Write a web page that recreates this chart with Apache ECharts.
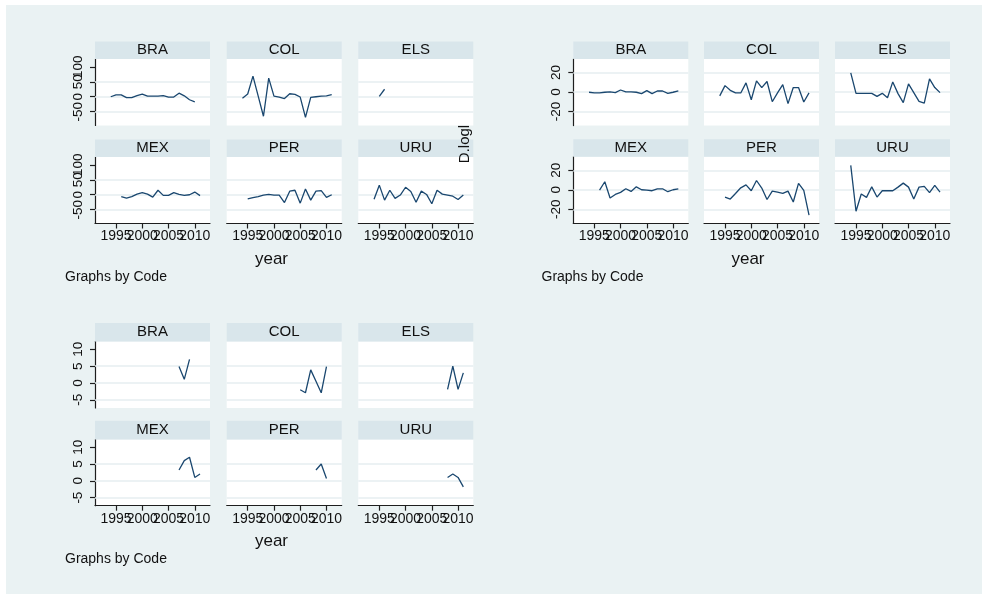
<!DOCTYPE html>
<html>
<head>
<meta charset="utf-8">
<script src="https://cdn.jsdelivr.net/npm/echarts@6/dist/echarts.min.js"></script>
<style>
html, body { margin: 0; padding: 0; background: #ffffff; }
#chart { width: 982px; height: 594px; }
</style>
</head>
<body>
<div id="chart"></div>
<script>
// ---- data -------------------------------------------------------------
const years = [1994, 1995, 1996, 1997, 1998, 1999, 2000, 2001, 2002,
               2003, 2004, 2005, 2006, 2007, 2008, 2009, 2010, 2011];
const codes = ['BRA', 'COL', 'ELS', 'MEX', 'PER', 'URU'];

// first set of panels (top left)
const g1BRA = [0, 6, 6, -3, -3, 4, 9, 2, 2, 2, 4, -1, -1, 12, 3, -10, -17, null];
const g1COL = [-5, 9, 69, 2, -65, 62, 2, -1, -6, 10, 8, -1, -69, -2, 0, 2, 3, 7];
const g1ELS = [null, 1, 25, null, null, null, null, null, null, null, null, null, null, null, null, null, null, null];
const g1MEX = [null, null, -6, -11, -6, 2, 7, 2, -8, 15, -2, -2, 7, 1, -2, 0, 9, -3];
const g1PER = [null, -14, -10, -6, -1, 1, -1, -1, -26, 12, 15, -28, 19, -18, 12, 14, -9, 0];
const g1URU = [-15, 32, -18, 15, -12, -1, 25, 11, -25, 12, 1, -30, 15, 2, -1, -5, -16, -1];

// second set of panels (top right), D.logl
const g2BRA = [-0.3, -1, -1, -0.3, 0, -0.7, 2, 0, 0, -0.3, -1.7, 1.4, -1.7, 1, 1, -1.4, -0.3, 1];
const g2COL = [-4, 6.5, 1.7, -1, -1, 9.3, -8, 11.4, 4.5, 10.7, -10, -1, 7.6, -12, 4.5, 4.5, -10.3, -1];
const g2ELS = [19.5, -1.4, -1.4, -1.4, -1.4, -4.5, -1.4, -6, 10.3, -1.7, -11, 8.3, -0.7, -9.7, -11.4, 13.4, 4.5, -0.7];
const g2MEX = [null, null, -0.3, 8.2, -8.5, -4.8, -2.7, 1, -1.7, 3, 0, -0.3, -1, 1, 1, -2, 0, 1];
const g2PER = [null, -7.5, -9.5, -3.8, 2, 5, -1, 9.5, 1.7, -10, -1.4, -2.4, -3.8, -1.4, -12.6, 6.5, -0.7, -26];
const g2URU = [25, -22, -4.4, -7.8, 3, -7.5, -1, -1, -1, 2.7, 6.8, 2.7, -9.5, 2.7, 3.4, -3, 4.4, -2.4];

// third set of panels (bottom left)
const g3BRA = [null, null, null, null, null, null, null, null, null, null, null, null, null, 4.9, 1.1, 7.0, null, null];
const g3COL = [null, null, null, null, null, null, null, null, null, null, null, -2, -2.9, 3.9, 0.5, -2.9, 4.9, null];
const g3ELS = [null, null, null, null, null, null, null, null, null, null, null, null, null, null, -1.9, 5, -1.9, 3];
const g3MEX = [null, null, null, null, null, null, null, null, null, null, null, null, null, 3.2, 6, 7, 1, 2];
const g3PER = [null, null, null, null, null, null, null, null, null, null, null, null, null, null, 3.2, 5, 0.7, null];
const g3URU = [null, null, null, null, null, null, null, null, null, null, null, null, null, null, 1, 2, 1, -1.8];

// tick labels
const xTicks = [1995, 2000, 2005, 2010];
const yTicks1 = [-50, 0, 50, 100];
const yTicks2 = [-20, 0, 20];
const yTicks3 = [-5, 0, 5, 10];
const yGrid1 = [-50, 0, 50];
const yGrid2 = [-20, 0, 20];
const yGrid3 = [-5, 0, 5];

// ---- layout & styles -------------------------------------------------------
const FONT = '"Liberation Sans", Arial, Helvetica, sans-serif';
const BG = '#eaf2f3';
const STRIP = '#d9e6eb';
const GRIDLINE = '#e6eef1';
const LINE = '#1a476f';
const AXIS = '#1e1e1e';
const PANEL_W = 115;
const X_MIN = 1991, X_MAX = 2012.9;

const sets = [
  { values: [g1BRA, g1COL, g1ELS, g1MEX, g1PER, g1URU], yTicks: yTicks1, yGrid: yGrid1,
    yMin: -96, yMax: 126, cols: [95, 226.7, 358.3], tops: [59, 157], h: 66.5, stripH: 17.4 },
  { values: [g2BRA, g2COL, g2ELS, g2MEX, g2PER, g2URU], yTicks: yTicks2, yGrid: yGrid2,
    yMin: -34.5, yMax: 33.8, cols: [573.3, 704, 835], tops: [59, 156.8], h: 66.6, stripH: 17.6 },
  { values: [g3BRA, g3COL, g3ELS, g3MEX, g3PER, g3URU], yTicks: yTicks3, yGrid: yGrid3,
    yMin: -7.4, yMax: 12.3, cols: [95, 226.7, 358.3], tops: [341.6, 439.4], h: 66.3, stripH: 18.6 }
];

// Labels that sit closer than their own width collide, and ECharts drops one of
// a colliding pair; spreading alternate labels over two stacked axes keeps them all.
const evenOf = arr => arr.filter((_, i) => i % 2 === 0);
const oddOf = arr => arr.filter((_, i) => i % 2 === 1);

const grid = [], xAxis = [], yAxis = [], series = [];
const graphic = [
  { type: 'rect', shape: { x: 0, y: 0, width: 982, height: 5 }, style: { fill: '#ffffff' }, z: 50 },
  { type: 'rect', shape: { x: 0, y: 0, width: 6, height: 594 }, style: { fill: '#ffffff' }, z: 50 }
];

const labelStyle = (size, extra) => Object.assign({
  fontSize: size, color: '#111', fontFamily: FONT,
  showMinLabel: true, showMaxLabel: true, hideOverlap: false,
  formatter: v => String(v)
}, extra);

let g = 0;
sets.forEach(set => {
  set.values.forEach((vals, p) => {
    const row = Math.floor(p / 3), col = p % 3;
    const left = set.cols[col], top = set.tops[row];
    grid.push({ left: left, top: top, width: PANEL_W, height: set.h,
                show: true, backgroundColor: '#ffffff', borderWidth: 0 });

    const xMain = xAxis.length;
    xAxis.push({
      gridIndex: g, type: 'value', position: 'bottom', min: X_MIN, max: X_MAX, show: row === 1,
      axisLine: { show: true, onZero: false, lineStyle: { color: AXIS, width: 1.2 } },
      axisTick: { show: true, length: 5, customValues: xTicks, lineStyle: { color: AXIS, width: 1.2 } },
      axisLabel: labelStyle(14, { customValues: evenOf(xTicks), margin: 6 }),
      splitLine: { show: false }
    });
    xAxis.push({
      gridIndex: g, type: 'value', position: 'bottom', min: X_MIN, max: X_MAX, show: row === 1,
      axisLine: { show: false }, axisTick: { show: false },
      axisLabel: labelStyle(14, { customValues: oddOf(xTicks), margin: 6 }),
      splitLine: { show: false }
    });

    const yMain = yAxis.length;
    yAxis.push({
      gridIndex: g, type: 'value', position: 'left', min: set.yMin, max: set.yMax, show: col === 0,
      axisLine: { show: true, onZero: false, lineStyle: { color: AXIS, width: 1.2 } },
      axisTick: { show: true, length: 5, customValues: set.yTicks, lineStyle: { color: AXIS, width: 1.2 } },
      axisLabel: labelStyle(13.5, { customValues: evenOf(set.yTicks), rotate: 90, margin: 10 }),
      splitLine: { show: false }
    });
    yAxis.push({
      gridIndex: g, type: 'value', position: 'left', min: set.yMin, max: set.yMax, show: col === 0,
      axisLine: { show: false }, axisTick: { show: false },
      axisLabel: labelStyle(13.5, { customValues: oddOf(set.yTicks), rotate: 90, margin: 10 }),
      splitLine: { show: false }
    });

    series.push({
      type: 'line', xAxisIndex: xMain, yAxisIndex: yMain, z: 3,
      showSymbol: false, symbol: 'none', animation: false, silent: true,
      lineStyle: { color: LINE, width: 1.3 },
      data: years.map((y, i) => [y, vals[i]]).filter(d => d[1] !== null),
      markLine: {
        z: 1, silent: true, symbol: 'none', animation: false,
        label: { show: false },
        lineStyle: { color: GRIDLINE, width: 1.5, type: 'solid' },
        data: set.yGrid.map(v => ({ yAxis: v }))
      }
    });
    // subtitle strip with the country code
    graphic.push({ type: 'rect', z: 5,
      shape: { x: left, y: top - set.stripH, width: PANEL_W, height: set.stripH },
      style: { fill: STRIP } });
    graphic.push({ type: 'text', z: 6, x: left + PANEL_W / 2, y: top - set.stripH / 2,
      style: { text: codes[p], fill: '#111', font: '15px ' + FONT, align: 'center', verticalAlign: 'middle' } });
    g++;
  });
});

// axis titles and notes
const notes = [
  { text: 'year', x: 271.5, y: 259, size: 17, align: 'center' },
  { text: 'year', x: 748, y: 259, size: 17, align: 'center' },
  { text: 'year', x: 271.5, y: 541.5, size: 17, align: 'center' },
  { text: 'Graphs by Code', x: 65, y: 277, size: 14, align: 'left' },
  { text: 'Graphs by Code', x: 541.5, y: 277, size: 14, align: 'left' },
  { text: 'Graphs by Code', x: 65, y: 559.5, size: 14, align: 'left' }
];
notes.forEach(n => graphic.push({ type: 'text', z: 20, x: n.x, y: n.y,
  style: { text: n.text, fill: '#111', font: n.size + 'px ' + FONT, align: n.align, verticalAlign: 'middle' } }));
graphic.push({ type: 'text', z: 40, x: 465, y: 144, rotation: Math.PI / 2,
  style: { text: 'D.logl', fill: '#111', font: '15px ' + FONT, align: 'center', verticalAlign: 'middle' } });

const chart = echarts.init(document.getElementById('chart'), null, { renderer: 'canvas' });
chart.setOption({
  backgroundColor: BG,
  animation: false,
  grid, xAxis, yAxis, series, graphic
});
</script>
</body>
</html>
